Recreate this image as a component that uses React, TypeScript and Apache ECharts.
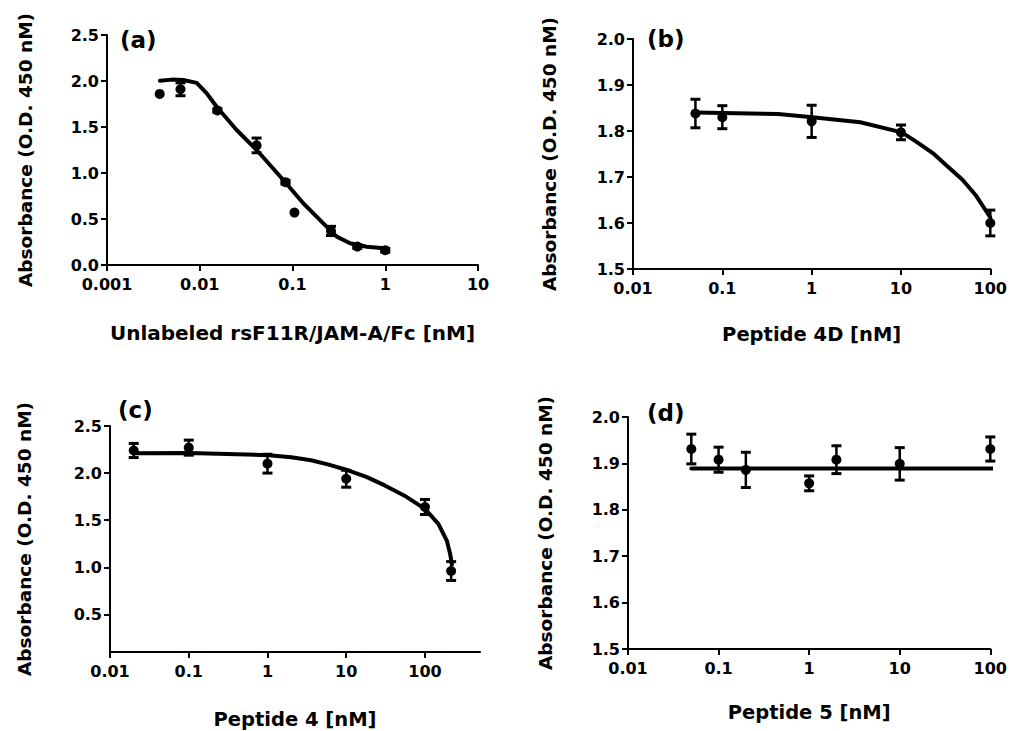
import React, { useEffect, useRef } from "react";
import * as echarts from "echarts";

// ---- Panel (a) ----
const aX = [0.0037, 0.0062, 0.0155, 0.041, 0.084, 0.105, 0.26, 0.5, 1.0];
const aY = [1.86, 1.91, 1.68, 1.3, 0.9, 0.57, 0.37, 0.2, 0.16];
const aErr = [0, 0.07, 0.02, 0.08, 0.02, 0, 0.05, 0.02, 0.02];
const aFitX = [0.00372, 0.005, 0.00665, 0.00927, 0.0119, 0.0152, 0.025, 0.0411, 0.0796, 0.1306, 0.2148, 0.3, 0.417, 0.631, 1.04];
const aFitY = [2.003, 2.015, 2.011, 1.98, 1.866, 1.72, 1.467, 1.25, 0.924, 0.671, 0.453, 0.308, 0.236, 0.199, 0.18];

// ---- Panel (b) ----
const bX = [0.05, 0.1, 1, 10, 100];
const bY = [1.838, 1.83, 1.821, 1.797, 1.6];
const bErr = [0.031, 0.025, 0.035, 0.016, 0.028];
const bFitX = [0.05, 0.42, 1.02, 3.5, 10.2, 14.8, 22.7, 33.3, 48.8, 68.4, 100];
const bFitY = [1.84, 1.837, 1.83, 1.819, 1.797, 1.777, 1.752, 1.723, 1.694, 1.661, 1.612];

// ---- Panel (c) ----
const cX = [0.02, 0.1, 1, 10, 100, 215];
const cY = [2.24, 2.27, 2.1, 1.94, 1.64, 0.96];
const cErr = [0.075, 0.08, 0.1, 0.09, 0.08, 0.1];
const cFitX = [0.02, 0.1, 1.05, 2.0, 3.58, 6.0, 10.5, 18.0, 30.9, 55.0, 100, 148, 190, 209, 220];
const cFitY = [2.21, 2.212, 2.19, 2.168, 2.136, 2.09, 2.03, 1.96, 1.869, 1.76, 1.62, 1.46, 1.28, 1.14, 1.03];

// ---- Panel (d) ----
const dX = [0.05, 0.1, 0.2, 1, 2, 10, 100];
const dY = [1.931, 1.908, 1.886, 1.857, 1.908, 1.899, 1.931];
const dErr = [0.032, 0.027, 0.038, 0.016, 0.03, 0.035, 0.026];
const dFitX = [0.05, 125];
const dFitY = [1.889, 1.889];

const panelLetters = ["(a)", "(b)", "(c)", "(d)"];
const xTitles = [
  "Unlabeled rsF11R/JAM-A/Fc [nM]",
  "Peptide 4D [nM]",
  "Peptide 4 [nM]",
  "Peptide 5 [nM]",
];
const yTitle = "Absorbance (O.D. 450 nM)";

const xRanges = [
  [0.001, 10],
  [0.01, 100],
  [0.01, 500],
  [0.01, 100],
];
const xTickValues = [
  [0.001, 0.01, 0.1, 1, 10],
  [0.01, 0.1, 1, 10, 100],
  [0.01, 0.1, 1, 10, 100],
  [0.01, 0.1, 1, 10, 100],
];
const yRanges = [
  [0, 2.5],
  [1.5, 2.0],
  [0.1, 2.5],
  [1.5, 2.0],
];
const yTickValues = [
  [0, 0.5, 1.0, 1.5, 2.0, 2.5],
  [1.5, 1.6, 1.7, 1.8, 1.9, 2.0],
  [0.5, 1.0, 1.5, 2.0, 2.5],
  [1.5, 1.6, 1.7, 1.8, 1.9, 2.0],
];

const FONT = "DejaVu Sans";

const zip2 = (xs: number[], ys: number[]) => xs.map((x, i) => [x, ys[i]]);
const zip3 = (xs: number[], ys: number[], es: number[]) => xs.map((x, i) => [x, ys[i], es[i]]);

const fmtLog = (v: number) => {
  const e = Math.round(Math.log10(v));
  return e < 0 ? Math.pow(10, e).toFixed(-e) : String(Math.round(Math.pow(10, e)));
};

export default function App() {
  const ref = useRef<HTMLDivElement>(null);

  useEffect(() => {
    if (!ref.current) return;
    const chart = echarts.init(ref.current, null, { renderer: "svg" });

    const grids = [
      { left: 107, top: 35, width: 371, height: 230 },
      { left: 633, top: 39, width: 362, height: 230 },
      { left: 110, top: 426, width: 370, height: 226 },
      { left: 628, top: 417, width: 365, height: 232 },
    ];
    const xGaps = [58, 55, 57, 53];
    const yGaps = [72, 74, 76, 73];
    const xTitleSizes = [20, 19.5, 19.5, 19.5];

    const axisCommon = {
      axisLine: { show: true, lineStyle: { color: "#000", width: 2 } },
      axisTick: { show: true, inside: false, length: 6, lineStyle: { color: "#000", width: 2 } },
      splitLine: { show: false },
      minorTick: { show: false },
    };

    const xAxis = grids.map((_, i) => ({
      type: "log",
      logBase: 10,
      gridIndex: i,
      min: xRanges[i][0],
      max: xRanges[i][1],
      ...axisCommon,
      axisTick: { ...axisCommon.axisTick, customValues: xTickValues[i] },
      axisLabel: {
        customValues: xTickValues[i],
        formatter: (v: number) => fmtLog(v),
        color: "#000",
        fontFamily: FONT,
        fontWeight: "bold",
        fontSize: 16,
        margin: 11,
        showMinLabel: true,
        showMaxLabel: true,
      },
      name: xTitles[i],
      nameLocation: "middle",
      nameGap: xGaps[i],
      nameTextStyle: { color: "#000", fontFamily: FONT, fontWeight: "bold", fontSize: xTitleSizes[i] },
    }));

    const yAxis = grids.map((_, i) => ({
      type: "value",
      gridIndex: i,
      min: yRanges[i][0],
      max: yRanges[i][1],
      ...axisCommon,
      axisTick: { ...axisCommon.axisTick, customValues: yTickValues[i] },
      axisLabel: {
        customValues: yTickValues[i],
        formatter: (v: number) => v.toFixed(1),
        color: "#000",
        fontFamily: FONT,
        fontWeight: "bold",
        fontSize: 16,
        margin: 8,
        showMinLabel: true,
        showMaxLabel: true,
      },
      name: yTitle,
      nameLocation: "middle",
      nameGap: yGaps[i],
      nameTextStyle: { color: "#000", fontFamily: FONT, fontWeight: "bold", fontSize: 18.5 },
    }));

    const points = [
      [aX, aY, aErr],
      [bX, bY, bErr],
      [cX, cY, cErr],
      [dX, dY, dErr],
    ];
    const fits = [
      [aFitX, aFitY],
      [bFitX, bFitY],
      [cFitX, cFitY],
      [dFitX, dFitY],
    ];

    const series: any[] = [];
    for (let i = 0; i < 4; i++) {
      const [xs, ys, es] = points[i];
      const [fx, fy] = fits[i];
      series.push({
        type: "line",
        xAxisIndex: i,
        yAxisIndex: i,
        data: zip2(fx, fy),
        showSymbol: false,
        symbol: "none",
        smooth: false,
        clip: false,
        lineStyle: { color: "#000", width: 4, join: "round", cap: "round" },
        z: 3,
      });
      series.push({
        type: "custom",
        xAxisIndex: i,
        yAxisIndex: i,
        data: zip3(xs, ys, es),
        encode: { x: 0, y: 1 },
        clip: false,
        z: 4,
        renderItem: (params: any, api: any) => {
          const x = api.value(0);
          const y = api.value(1);
          const e = api.value(2);
          if (!e) return { type: "group", children: [] };
          const top = api.coord([x, y + e]);
          const bot = api.coord([x, y - e]);
          const hw = 5;
          const st = { stroke: "#000", lineWidth: 2.5 };
          return {
            type: "group",
            children: [
              { type: "line", shape: { x1: top[0], y1: top[1], x2: bot[0], y2: bot[1] }, style: st },
              { type: "line", shape: { x1: top[0] - hw, y1: top[1], x2: top[0] + hw, y2: top[1] }, style: { stroke: "#000", lineWidth: 3 } },
              { type: "line", shape: { x1: bot[0] - hw, y1: bot[1], x2: bot[0] + hw, y2: bot[1] }, style: { stroke: "#000", lineWidth: 3 } },
            ],
          };
        },
      });
      series.push({
        type: "scatter",
        xAxisIndex: i,
        yAxisIndex: i,
        data: zip2(xs, ys),
        symbol: "circle",
        symbolSize: 10,
        clip: false,
        itemStyle: { color: "#000", opacity: 1 },
        z: 5,
      });
    }

    const letterPos = [
      [120, 28],
      [647, 27],
      [118, 398],
      [647, 401],
    ];

    chart.setOption({
      animation: false,
      backgroundColor: "#fff",
      grid: grids.map((g) => ({ ...g, containLabel: false })),
      xAxis,
      yAxis,
      series,
      graphic: panelLetters.map((t, i) => ({
        type: "text",
        left: letterPos[i][0],
        top: letterPos[i][1],
        style: {
          text: t,
          fill: "#000",
          font: `bold 23px "${FONT}"`,
        },
      })),
    });

    return () => chart.dispose();
  }, []);

  return (
    <div
      ref={ref}
      style={{ position: "absolute", left: 0, top: 0, width: 1010, height: 731, background: "#fff" }}
    />
  );
}
